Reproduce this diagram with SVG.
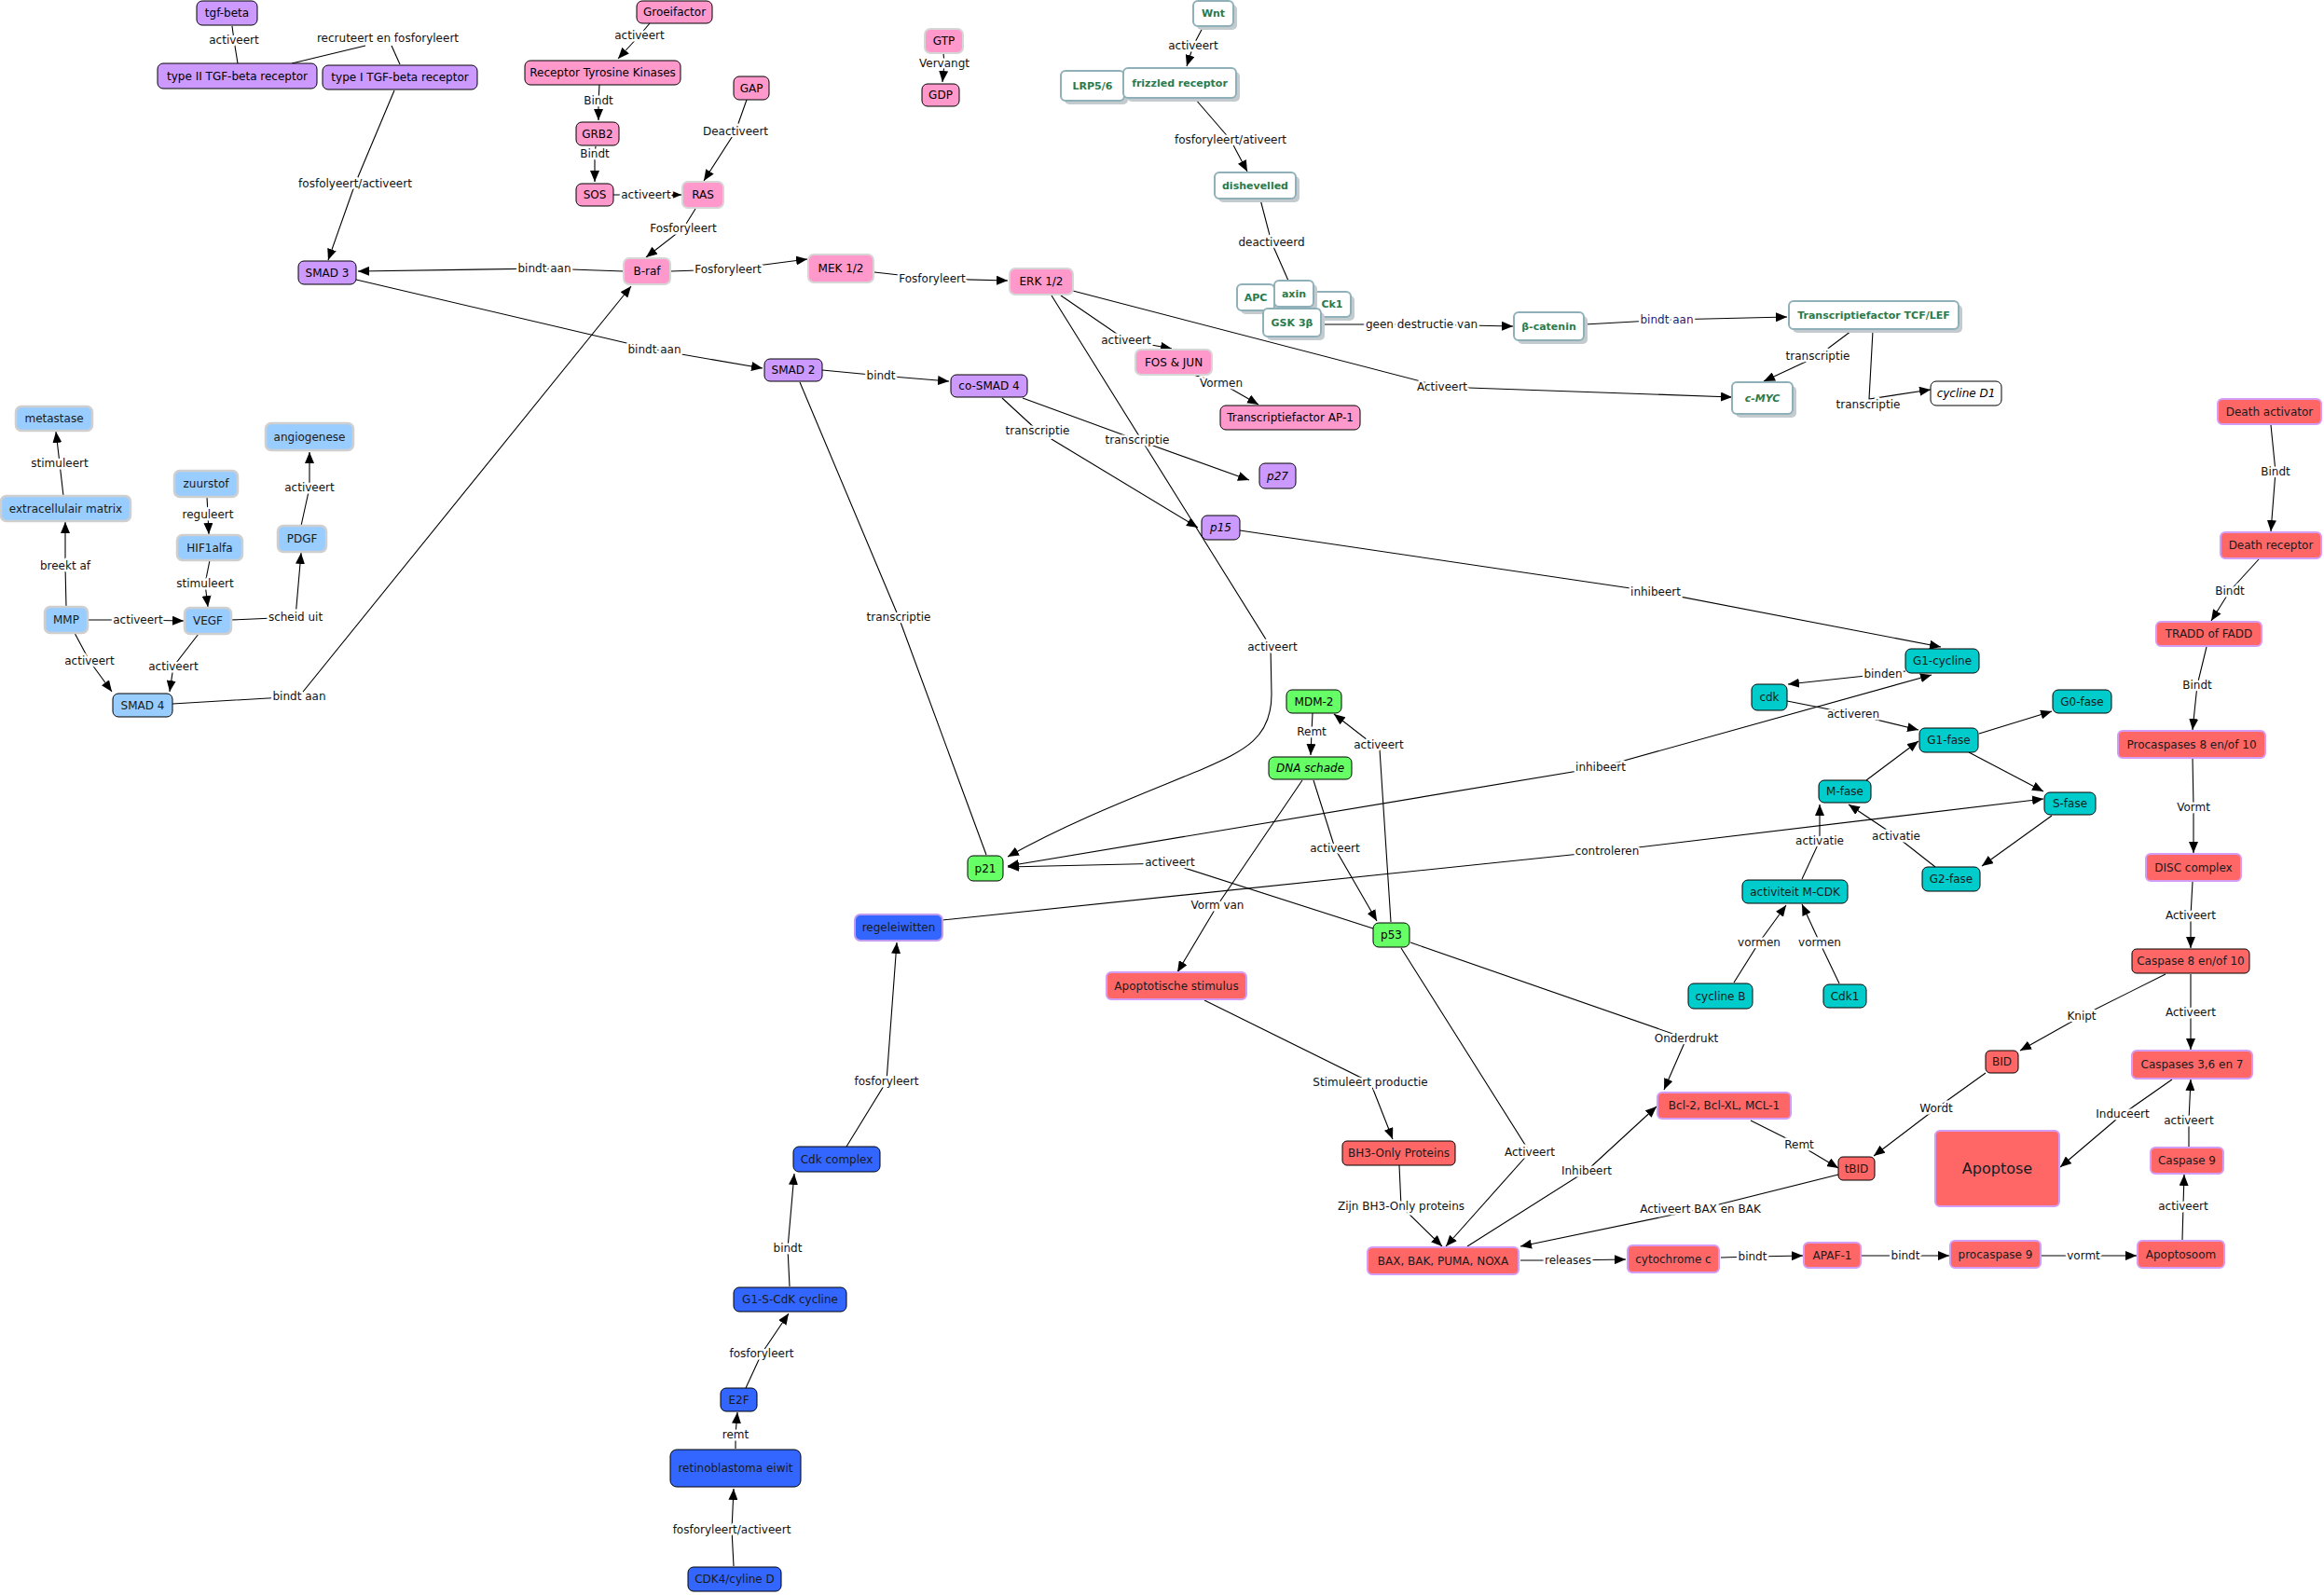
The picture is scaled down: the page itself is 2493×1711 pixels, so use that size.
<svg xmlns="http://www.w3.org/2000/svg" width="2493" height="1711" viewBox="0 0 2493 1711">
<style>
text{font-family:"DejaVu Sans",Verdana,sans-serif;font-size:12px;text-anchor:middle;dominant-baseline:central}
.e{fill:none;stroke:#000;stroke-width:1.1}
.l{fill:#111;stroke:#fff;stroke-width:5;stroke-linejoin:round;paint-order:stroke}
.pu{fill:#cc99ff;stroke:#000}
.pk{fill:#ff99cc;stroke:#000}
.pg{fill:#ff99cc;stroke:#d6d6d6;stroke-width:2}
.wn{fill:#fff;stroke:#8fb0b8;stroke-width:2}
.sh{fill:#c3cbcf}
.wt{fill:#2a7a4c;font-weight:bold;font-size:11px}
.lb{fill:#99ccff;stroke:#cfcfcf;stroke-width:2.5}
.lbk{fill:#99ccff;stroke:#000}
.gr{fill:#66ff66;stroke:#000}
.bl{fill:#3366ff;stroke:#000}
.bll{fill:#3366ff;stroke:#c29af0;stroke-width:2}
.te{fill:#00cccc;stroke:#000}
.rd{fill:#ff6666;stroke:#d39cf5;stroke-width:2}
.rdb{fill:#ff6666;stroke:#000}
.it{font-style:italic}
.dk{fill:#1a1a1a}
</style>
<defs>
<marker id="a" viewBox="0 0 12 10" refX="12" refY="5" markerWidth="12" markerHeight="10" markerUnits="userSpaceOnUse" orient="auto-start-reverse"><path d="M0,0 L12,5 L0,10 z" fill="#000"/></marker>
</defs>
<rect width="2493" height="1711" fill="#fff"/>
<g id="connectors">
<polyline class="e" points="249,28 251,43 255,68"/>
<polyline class="e" points="313,68 392,49"/>
<polyline class="e" points="420,49 429,69"/>
<polyline class="e" points="423,97 381,197 352,279" marker-end="url(#a)"/>
<polyline class="e" points="669,291 584,288 384,291" marker-end="url(#a)"/>
<polyline class="e" points="382,300 702,375 818,395" marker-end="url(#a)"/>
<polyline class="e" points="185,755 321,747 677,307" marker-end="url(#a)"/>
<polyline class="e" points="697,25 686,38 663,63" marker-end="url(#a)"/>
<polyline class="e" points="643,91 642,108 642,129" marker-end="url(#a)"/>
<polyline class="e" points="639,157 638,165 638,195" marker-end="url(#a)"/>
<polyline class="e" points="658,209 693,209 731,209" marker-end="url(#a)"/>
<polyline class="e" points="801,107 789,141 755,194" marker-end="url(#a)"/>
<polyline class="e" points="746,224 733,245 693,276" marker-end="url(#a)"/>
<polyline class="e" points="719,291 781,289 866,278" marker-end="url(#a)"/>
<polyline class="e" points="938,292 1000,299 1081,301" marker-end="url(#a)"/>
<polyline class="e" points="1138,317 1208,365 1257,374" marker-end="url(#a)"/>
<polyline class="e" points="1280,402 1310,411 1350,434" marker-end="url(#a)"/>
<polyline class="e" points="1151,312 1547,415 1858,426" marker-end="url(#a)"/>
<path class="e" d="M1128,317 L1363,694 L1364,745 C1364,792 1335,805 1290,825 C1230,850 1150,880 1081,919" marker-end="url(#a)"/>
<polyline class="e" points="1012,57 1013,68 1011,88" marker-end="url(#a)"/>
<polyline class="e" points="1291,28 1280,49 1273,71" marker-end="url(#a)"/>
<polyline class="e" points="1282,106 1320,150 1338,184" marker-end="url(#a)"/>
<polyline class="e" points="1352,214 1364,260 1382,301"/>
<polyline class="e" points="1418,348 1525,348 1623,350" marker-end="url(#a)"/>
<polyline class="e" points="1700,348 1788,343 1917,340" marker-end="url(#a)"/>
<polyline class="e" points="1986,355 1950,382 1892,409" marker-end="url(#a)"/>
<polyline class="e" points="2009,355 2005,428 2071,418" marker-end="url(#a)"/>
<polyline class="e" points="882,397 945,403 1018,409" marker-end="url(#a)"/>
<polyline class="e" points="1075,427 1113,462 1285,566" marker-end="url(#a)"/>
<polyline class="e" points="1097,427 1220,472 1340,515" marker-end="url(#a)"/>
<polyline class="e" points="858,410 964,662 1058,917"/>
<polyline class="e" points="1330,569 1776,635 2082,694" marker-end="url(#a)"/>
<polyline class="e" points="1081,929 1717,823 2072,724" marker-start="url(#a)" marker-end="url(#a)"/>
<polyline class="e" points="1473,996 1255,926 1081,930" marker-end="url(#a)"/>
<polyline class="e" points="1011,987 1724,913 2192,857" marker-end="url(#a)"/>
<polyline class="e" points="908,1230 951,1160 962,1011" marker-end="url(#a)"/>
<polyline class="e" points="847,1380 845,1339 852,1259" marker-end="url(#a)"/>
<polyline class="e" points="800,1489 817,1452 846,1409" marker-end="url(#a)"/>
<polyline class="e" points="789,1554 789,1539 791,1515" marker-end="url(#a)"/>
<polyline class="e" points="787,1680 785,1641 787,1597" marker-end="url(#a)"/>
<polyline class="e" points="1408,765 1407,785 1406,810" marker-end="url(#a)"/>
<polyline class="e" points="1492,989 1480,804 1431,766" marker-end="url(#a)"/>
<polyline class="e" points="1409,837 1432,910 1477,988" marker-end="url(#a)"/>
<polyline class="e" points="1397,837 1306,971 1263,1043" marker-end="url(#a)"/>
<polyline class="e" points="1292,1073 1470,1161 1494,1222" marker-end="url(#a)"/>
<polyline class="e" points="1501,1250 1503,1294 1547,1337" marker-end="url(#a)"/>
<polyline class="e" points="1503,1017 1641,1236 1551,1337" marker-end="url(#a)"/>
<polyline class="e" points="1574,1337 1702,1256 1777,1187" marker-end="url(#a)"/>
<polyline class="e" points="1513,1011 1809,1114 1785,1169" marker-end="url(#a)"/>
<polyline class="e" points="1972,1260 1824,1297 1631,1337" marker-end="url(#a)"/>
<polyline class="e" points="1631,1352 1682,1352 1744,1351" marker-end="url(#a)"/>
<polyline class="e" points="1846,1349 1880,1348 1934,1347" marker-end="url(#a)"/>
<polyline class="e" points="1997,1347 2044,1347 2091,1347" marker-end="url(#a)"/>
<polyline class="e" points="2190,1347 2235,1347 2292,1347" marker-end="url(#a)"/>
<polyline class="e" points="2341,1330 2342,1294 2343,1260" marker-end="url(#a)"/>
<polyline class="e" points="2348,1230 2348,1202 2350,1158" marker-end="url(#a)"/>
<polyline class="e" points="2330,1158 2277,1195 2210,1252" marker-end="url(#a)"/>
<polyline class="e" points="2130,1151 2077,1189 2010,1240" marker-end="url(#a)"/>
<polyline class="e" points="1878,1202 1930,1228 1972,1253" marker-end="url(#a)"/>
<polyline class="e" points="2323,1045 2233,1090 2167,1127" marker-end="url(#a)"/>
<polyline class="e" points="2350,1045 2350,1086 2350,1126" marker-end="url(#a)"/>
<polyline class="e" points="2352,946 2350,982 2350,1017" marker-end="url(#a)"/>
<polyline class="e" points="2352,813 2353,866 2353,915" marker-end="url(#a)"/>
<polyline class="e" points="2367,694 2357,735 2352,783" marker-end="url(#a)"/>
<polyline class="e" points="2423,600 2392,634 2372,666" marker-end="url(#a)"/>
<polyline class="e" points="2436,456 2441,506 2436,570" marker-end="url(#a)"/>
<polyline class="e" points="2044,720 2020,723 1918,734" marker-end="url(#a)"/>
<polyline class="e" points="1917,752 1988,766 2058,783" marker-end="url(#a)"/>
<polyline class="e" points="2123,787 2201,763" marker-end="url(#a)"/>
<polyline class="e" points="2112,807 2192,849" marker-end="url(#a)"/>
<polyline class="e" points="2002,837 2058,795" marker-end="url(#a)"/>
<polyline class="e" points="2201,875 2126,929" marker-end="url(#a)"/>
<polyline class="e" points="2076,930 2034,897 1983,863" marker-end="url(#a)"/>
<polyline class="e" points="1933,943 1952,902 1952,863" marker-end="url(#a)"/>
<polyline class="e" points="1860,1054 1887,1011 1916,971" marker-end="url(#a)"/>
<polyline class="e" points="1973,1055 1952,1011 1933,970" marker-end="url(#a)"/>
<polyline class="e" points="323,564 332,523 332,485" marker-end="url(#a)"/>
<polyline class="e" points="222,533 223,552 224,573" marker-end="url(#a)"/>
<polyline class="e" points="225,601 220,626 223,651" marker-end="url(#a)"/>
<polyline class="e" points="71,651 70,607 70,560" marker-end="url(#a)"/>
<polyline class="e" points="68,532 64,497 60,463" marker-end="url(#a)"/>
<polyline class="e" points="94,665 148,665 197,666" marker-end="url(#a)"/>
<polyline class="e" points="248,665 317,662 323,593" marker-end="url(#a)"/>
<polyline class="e" points="80,679 96,709 120,742" marker-end="url(#a)"/>
<polyline class="e" points="213,680 186,715 182,742" marker-end="url(#a)"/>
<g id="labels">
<text class="l" x="251" y="43">activeert</text>
<text class="l" x="416" y="41">recruteert en fosforyleert</text>
<text class="l" x="381" y="197">fosfolyeert/activeert</text>
<text class="l" x="584" y="288">bindt aan</text>
<text class="l" x="702" y="375">bindt aan</text>
<text class="l" x="321" y="747">bindt aan</text>
<text class="l" x="686" y="38">activeert</text>
<text class="l" x="642" y="108">Bindt</text>
<text class="l" x="638" y="165">Bindt</text>
<text class="l" x="693" y="209">activeert</text>
<text class="l" x="789" y="141">Deactiveert</text>
<text class="l" x="733" y="245">Fosforyleert</text>
<text class="l" x="781" y="289">Fosforyleert</text>
<text class="l" x="1000" y="299">Fosforyleert</text>
<text class="l" x="1208" y="365">activeert</text>
<text class="l" x="1310" y="411">Vormen</text>
<text class="l" x="1547" y="415">Activeert</text>
<text class="l" x="1365" y="694">activeert</text>
<text class="l" x="1013" y="68">Vervangt</text>
<text class="l" x="1280" y="49">activeert</text>
<text class="l" x="1320" y="150">fosforyleert/ativeert</text>
<text class="l" x="1364" y="260">deactiveerd</text>
<text class="l" x="1525" y="348">geen destructie van</text>
<text class="l" x="1788" y="343" style="fill:#1c1c78">bindt aan</text>
<text class="l" x="1950" y="382">transcriptie</text>
<text class="l" x="2004" y="434">transcriptie</text>
<text class="l" x="945" y="403">bindt</text>
<text class="l" x="1113" y="462">transcriptie</text>
<text class="l" x="1220" y="472">transcriptie</text>
<text class="l" x="964" y="662">transcriptie</text>
<text class="l" x="1776" y="635">inhibeert</text>
<text class="l" x="1717" y="823">inhibeert</text>
<text class="l" x="1255" y="925">activeert</text>
<text class="l" x="1724" y="913">controleren</text>
<text class="l" x="951" y="1160">fosforyleert</text>
<text class="l" x="845" y="1339">bindt</text>
<text class="l" x="817" y="1452">fosforyleert</text>
<text class="l" x="789" y="1539">remt</text>
<text class="l" x="785" y="1641">fosforyleert/activeert</text>
<text class="l" x="1407" y="785">Remt</text>
<text class="l" x="1479" y="799">activeert</text>
<text class="l" x="1432" y="910">activeert</text>
<text class="l" x="1306" y="971">Vorm van</text>
<text class="l" x="1470" y="1161">Stimuleert productie</text>
<text class="l" x="1503" y="1294">Zijn BH3-Only proteins</text>
<text class="l" x="1641" y="1236">Activeert</text>
<text class="l" x="1702" y="1256">Inhibeert</text>
<text class="l" x="1809" y="1114">Onderdrukt</text>
<text class="l" x="1824" y="1297">Activeert BAX en BAK</text>
<text class="l" x="1682" y="1352">releases</text>
<text class="l" x="1880" y="1348">bindt</text>
<text class="l" x="2044" y="1347">bindt</text>
<text class="l" x="2235" y="1347">vormt</text>
<text class="l" x="2342" y="1294">activeert</text>
<text class="l" x="2348" y="1202">activeert</text>
<text class="l" x="2277" y="1195">Induceert</text>
<text class="l" x="2077" y="1189">Wordt</text>
<text class="l" x="1930" y="1228">Remt</text>
<text class="l" x="2233" y="1090">Knipt</text>
<text class="l" x="2350" y="1086">Activeert</text>
<text class="l" x="2350" y="982">Activeert</text>
<text class="l" x="2353" y="866">Vormt</text>
<text class="l" x="2357" y="735">Bindt</text>
<text class="l" x="2392" y="634">Bindt</text>
<text class="l" x="2441" y="506">Bindt</text>
<text class="l" x="2020" y="723">binden</text>
<text class="l" x="1988" y="766">activeren</text>
<text class="l" x="2034" y="897">activatie</text>
<text class="l" x="1952" y="902">activatie</text>
<text class="l" x="1887" y="1011">vormen</text>
<text class="l" x="1952" y="1011">vormen</text>
<text class="l" x="332" y="523">activeert</text>
<text class="l" x="223" y="552">reguleert</text>
<text class="l" x="220" y="626">stimuleert</text>
<text class="l" x="70" y="607">breekt af</text>
<text class="l" x="64" y="497">stimuleert</text>
<text class="l" x="148" y="665">activeert</text>
<text class="l" x="317" y="662">scheid uit</text>
<text class="l" x="96" y="709">activeert</text>
<text class="l" x="186" y="715">activeert</text>
</g>
</g>
<g id="n-tgfbeta"><rect class="pu" x="211" y="1" width="65" height="26" rx="6"/><text x="243.5" y="14">tgf-beta</text></g>
<g id="n-type2"><rect class="pu" x="169" y="68" width="171" height="27" rx="6"/><text x="254.5" y="81.5">type II TGF-beta receptor</text></g>
<g id="n-type1"><rect class="pu" x="346" y="70" width="166" height="26" rx="6"/><text x="429" y="83">type I TGF-beta receptor</text></g>
<g id="n-smad3"><rect class="pu" x="320" y="280" width="62" height="25" rx="6"/><text x="351" y="292.5">SMAD 3</text></g>
<g id="n-smad2"><rect class="pu" x="820" y="385" width="62" height="24" rx="6"/><text x="851" y="397">SMAD 2</text></g>
<g id="n-cosmad4"><rect class="pu" x="1020" y="402" width="82" height="24" rx="6"/><text x="1061" y="414">co-SMAD 4</text></g>
<g id="n-p27"><rect class="pu" x="1351" y="497" width="39" height="27" rx="6"/><text class="it" x="1370.5" y="510.5">p27</text></g>
<g id="n-p15"><rect class="pu" x="1289" y="553" width="41" height="26" rx="6"/><text class="it" x="1309.5" y="566">p15</text></g>
<g id="n-groeifactor"><rect class="pk" x="683" y="1" width="81" height="24" rx="6"/><text x="723.5" y="13">Groeifactor</text></g>
<g id="n-rtk"><rect class="pk" x="563" y="65" width="167" height="26" rx="6"/><text x="646.5" y="78">Receptor Tyrosine Kinases</text></g>
<g id="n-grb2"><rect class="pk" x="618" y="131" width="46" height="25" rx="6"/><text x="641" y="143.5">GRB2</text></g>
<g id="n-sos"><rect class="pk" x="618" y="197" width="40" height="24" rx="6"/><text x="638" y="209">SOS</text></g>
<g id="n-gap"><rect class="pk" x="787" y="82" width="38" height="25" rx="6"/><text x="806" y="94.5">GAP</text></g>
<g id="n-ras"><rect class="pg" x="732" y="195" width="44" height="28" rx="6"/><text x="754" y="209">RAS</text></g>
<g id="n-braf"><rect class="pg" x="669" y="277" width="50" height="28" rx="6"/><text x="694" y="291">B-raf</text></g>
<g id="n-mek"><rect class="pg" x="867" y="273" width="70" height="30" rx="6"/><text x="902" y="288">MEK 1/2</text></g>
<g id="n-erk"><rect class="pg" x="1083" y="288" width="68" height="28" rx="6"/><text x="1117" y="302">ERK 1/2</text></g>
<g id="n-fosjun"><rect class="pg" x="1218" y="375" width="82" height="27" rx="6"/><text x="1259" y="388.5">FOS &amp; JUN</text></g>
<g id="n-ap1"><rect class="pk" x="1309" y="435" width="150" height="26" rx="6"/><text x="1384" y="448">Transcriptiefactor AP-1</text></g>
<g id="n-gtp"><rect class="pg" x="992" y="31" width="41" height="26" rx="6"/><text x="1012.5" y="44">GTP</text></g>
<g id="n-gdp"><rect class="pk" x="989" y="90" width="40" height="24" rx="6"/><text x="1009" y="102">GDP</text></g>
<g id="n-wnt"><rect class="sh" x="1284" y="5" width="43" height="27" rx="5"/><rect class="wn" x="1280" y="1" width="43" height="27" rx="5"/><text class="wt" x="1301.5" y="14.5">Wnt</text></g>
<g id="n-lrp"><rect class="sh" x="1142" y="80" width="68" height="32" rx="5"/><rect class="wn" x="1138" y="76" width="68" height="32" rx="5"/><text class="wt" x="1172" y="92">LRP5/6</text></g>
<g id="n-frizzled"><rect class="sh" x="1209" y="77" width="121" height="32" rx="5"/><rect class="wn" x="1205" y="73" width="121" height="32" rx="5"/><text class="wt" x="1265.5" y="89">frizzled receptor</text></g>
<g id="n-dishevelled"><rect class="sh" x="1307" y="189" width="87" height="28" rx="5"/><rect class="wn" x="1303" y="185" width="87" height="28" rx="5"/><text class="wt" x="1346.5" y="199">dishevelled</text></g>
<g id="n-apc"><rect class="sh" x="1331" y="309" width="40" height="28" rx="5"/><rect class="wn" x="1327" y="305" width="40" height="28" rx="5"/><text class="wt" x="1347" y="319">APC</text></g>
<g id="n-ck1"><rect class="sh" x="1413" y="317" width="40" height="27" rx="5"/><rect class="wn" x="1409" y="313" width="40" height="27" rx="5"/><text class="wt" x="1429" y="326.5">Ck1</text></g>
<g id="n-axin"><rect class="sh" x="1371" y="305" width="42" height="28" rx="5"/><rect class="wn" x="1367" y="301" width="42" height="28" rx="5"/><text class="wt" x="1388" y="315">axin</text></g>
<g id="n-gsk"><rect class="sh" x="1359" y="335" width="62" height="30" rx="5"/><rect class="wn" x="1355" y="331" width="62" height="30" rx="5"/><text class="wt" x="1386" y="346">GSK 3β</text></g>
<g id="n-bcatenin"><rect class="sh" x="1628" y="339" width="75" height="30" rx="5"/><rect class="wn" x="1624" y="335" width="75" height="30" rx="5"/><text class="wt" x="1661.5" y="350">β-catenin</text></g>
<g id="n-tcf"><rect class="sh" x="1923" y="327" width="182" height="30" rx="5"/><rect class="wn" x="1919" y="323" width="182" height="30" rx="5"/><text class="wt" x="2010" y="338">Transcriptiefactor TCF/LEF</text></g>
<g id="n-cmyc"><rect class="sh" x="1862" y="414" width="65" height="34" rx="5"/><rect class="wn" x="1858" y="410" width="65" height="34" rx="5"/><text class="wt it" x="1890.5" y="427">c-MYC</text></g>
<g id="n-cyclined1"><rect x="2071" y="409" width="76" height="26" rx="6" fill="#fff" stroke="#000"/><text class="it" x="2109" y="422">cycline D1</text></g>
<g id="n-metastase"><rect class="lb" x="17" y="436" width="82" height="26" rx="6"/><text class="dk" x="58" y="449">metastase</text></g>
<g id="n-ecm"><rect class="lb" x="1" y="532" width="139" height="27" rx="6"/><text class="dk" x="70.5" y="545.5">extracellulair matrix</text></g>
<g id="n-zuurstof"><rect class="lb" x="187" y="505" width="68" height="28" rx="6"/><text class="dk" x="221" y="519">zuurstof</text></g>
<g id="n-angiogenese"><rect class="lb" x="285" y="454" width="94" height="29" rx="6"/><text class="dk" x="332" y="468.5">angiogenese</text></g>
<g id="n-hif1alfa"><rect class="lb" x="190" y="574" width="70" height="27" rx="6"/><text class="dk" x="225" y="587.5">HIF1alfa</text></g>
<g id="n-pdgf"><rect class="lb" x="298" y="564" width="52" height="28" rx="6"/><text class="dk" x="324" y="578">PDGF</text></g>
<g id="n-mmp"><rect class="lb" x="48" y="651" width="46" height="28" rx="6"/><text class="dk" x="71" y="665">MMP</text></g>
<g id="n-vegf"><rect class="lb" x="198" y="652" width="50" height="28" rx="6"/><text class="dk" x="223" y="666">VEGF</text></g>
<g id="n-smad4"><rect class="lbk" x="121" y="744" width="64" height="25" rx="6"/><text class="dk" x="153" y="756.5">SMAD 4</text></g>
<g id="n-mdm2"><rect class="gr" x="1380" y="740" width="59" height="25" rx="6"/><text x="1409.5" y="752.5">MDM-2</text></g>
<g id="n-dnaschade"><rect class="gr" x="1361" y="812" width="89" height="24" rx="6"/><text class="it" x="1405.5" y="824">DNA schade</text></g>
<g id="n-p21"><rect class="gr" x="1038" y="918" width="38" height="27" rx="6"/><text x="1057" y="931.5">p21</text></g>
<g id="n-p53"><rect class="gr" x="1473" y="990" width="39" height="26" rx="6"/><text x="1492.5" y="1003">p53</text></g>
<g id="n-regeleiwitten"><rect class="bll" x="917" y="981" width="94" height="28" rx="6"/><text class="dk" x="964" y="995">regeleiwitten</text></g>
<g id="n-cdkcomplex"><rect class="bl" x="851" y="1230" width="93" height="27" rx="6"/><text class="dk" x="897.5" y="1243.5">Cdk complex</text></g>
<g id="n-g1scdk"><rect class="bl" x="787" y="1381" width="121" height="26" rx="6"/><text class="dk" x="847.5" y="1394">G1-S-CdK cycline</text></g>
<g id="n-e2f"><rect class="bl" x="773" y="1489" width="39" height="25" rx="6"/><text class="dk" x="792.5" y="1501.5">E2F</text></g>
<g id="n-retino"><rect class="bl" x="719" y="1555" width="140" height="40" rx="7"/><text class="dk" x="789" y="1575">retinoblastoma eiwit</text></g>
<g id="n-cdk4"><rect class="bl" x="738" y="1681" width="100" height="26" rx="6"/><text class="dk" x="788" y="1694">CDK4/cyline D</text></g>
<g id="n-g1cycline"><rect class="te" x="2044" y="696" width="79" height="26" rx="6"/><text class="dk" x="2083.5" y="709">G1-cycline</text></g>
<g id="n-cdk"><rect class="te" x="1879" y="734" width="38" height="28" rx="6"/><text class="dk" x="1898" y="748">cdk</text></g>
<g id="n-g0fase"><rect class="te" x="2202" y="740" width="63" height="25" rx="6"/><text class="dk" x="2233.5" y="752.5">G0-fase</text></g>
<g id="n-g1fase"><rect class="te" x="2059" y="781" width="63" height="26" rx="6"/><text class="dk" x="2090.5" y="794">G1-fase</text></g>
<g id="n-mfase"><rect class="te" x="1951" y="837" width="56" height="24" rx="6"/><text class="dk" x="1979" y="849">M-fase</text></g>
<g id="n-sfase"><rect class="te" x="2193" y="850" width="55" height="24" rx="6"/><text class="dk" x="2220.5" y="862">S-fase</text></g>
<g id="n-g2fase"><rect class="te" x="2062" y="930" width="62" height="26" rx="6"/><text class="dk" x="2093" y="943">G2-fase</text></g>
<g id="n-mcdk"><rect class="te" x="1869" y="944" width="113" height="25" rx="6"/><text class="dk" x="1925.5" y="956.5">activiteit M-CDK</text></g>
<g id="n-cyclineb"><rect class="te" x="1811" y="1055" width="69" height="27" rx="6"/><text class="dk" x="1845.5" y="1068.5">cycline B</text></g>
<g id="n-cdk1"><rect class="te" x="1956" y="1056" width="46" height="25" rx="6"/><text class="dk" x="1979" y="1068.5">Cdk1</text></g>
<g id="n-deathact"><rect class="rd" x="2379" y="428" width="111" height="27" rx="5"/><text class="dk" x="2434.5" y="441.5">Death activator</text></g>
<g id="n-deathrec"><rect class="rd" x="2382" y="571" width="108" height="28" rx="5"/><text class="dk" x="2436" y="585">Death receptor</text></g>
<g id="n-tradd"><rect class="rd" x="2313" y="667" width="113" height="26" rx="5"/><text class="dk" x="2369.5" y="680">TRADD of FADD</text></g>
<g id="n-procasp"><rect class="rd" x="2272" y="784" width="158" height="29" rx="5"/><text class="dk" x="2351" y="798.5">Procaspases 8 en/of 10</text></g>
<g id="n-disc"><rect class="rd" x="2302" y="916" width="102" height="29" rx="5"/><text class="dk" x="2353" y="930.5">DISC complex</text></g>
<g id="n-casp8"><rect class="rdb" x="2287" y="1018" width="126" height="26" rx="5"/><text class="dk" x="2350" y="1031">Caspase 8 en/of 10</text></g>
<g id="n-bid"><rect class="rdb" x="2130" y="1127" width="35" height="24" rx="5"/><text class="dk" x="2147.5" y="1139">BID</text></g>
<g id="n-casp367"><rect class="rd" x="2287" y="1127" width="129" height="30" rx="5"/><text class="dk" x="2351.5" y="1142">Caspases 3,6 en 7</text></g>
<g id="n-casp9"><rect class="rd" x="2307" y="1231" width="78" height="28" rx="5"/><text class="dk" x="2346" y="1245">Caspase 9</text></g>
<g id="n-apoptose"><rect class="rd" x="2076" y="1213" width="133" height="81" rx="5"/><text class="dk" x="2142.5" y="1253.5" style="font-size:16px">Apoptose</text></g>
<g id="n-tbid"><rect class="rdb" x="1972" y="1241" width="39" height="25" rx="5"/><text class="dk" x="1991.5" y="1253.5">tBID</text></g>
<g id="n-bcl2"><rect class="rd" x="1778" y="1172" width="143" height="28" rx="5"/><text class="dk" x="1849.5" y="1186">Bcl-2, Bcl-XL, MCL-1</text></g>
<g id="n-bh3"><rect class="rdb" x="1440" y="1224" width="121" height="26" rx="5"/><text class="dk" x="1500.5" y="1237">BH3-Only Proteins</text></g>
<g id="n-apostim"><rect class="rd" x="1187" y="1043" width="150" height="29" rx="5"/><text class="dk" x="1262" y="1057.5">Apoptotische stimulus</text></g>
<g id="n-bax"><rect class="rd" x="1467" y="1338" width="162" height="29" rx="5"/><text class="dk" x="1548" y="1352.5">BAX, BAK, PUMA, NOXA</text></g>
<g id="n-cytc"><rect class="rd" x="1746" y="1336" width="98" height="29" rx="5"/><text class="dk" x="1795" y="1350.5">cytochrome c</text></g>
<g id="n-apaf1"><rect class="rd" x="1935" y="1333" width="61" height="27" rx="5"/><text class="dk" x="1965.5" y="1346.5">APAF-1</text></g>
<g id="n-procasp9"><rect class="rd" x="2092" y="1331" width="97" height="29" rx="5"/><text class="dk" x="2140.5" y="1345.5">procaspase 9</text></g>
<g id="n-apoptosoom"><rect class="rd" x="2293" y="1331" width="93" height="29" rx="5"/><text class="dk" x="2339.5" y="1345.5">Apoptosoom</text></g>
</svg>
